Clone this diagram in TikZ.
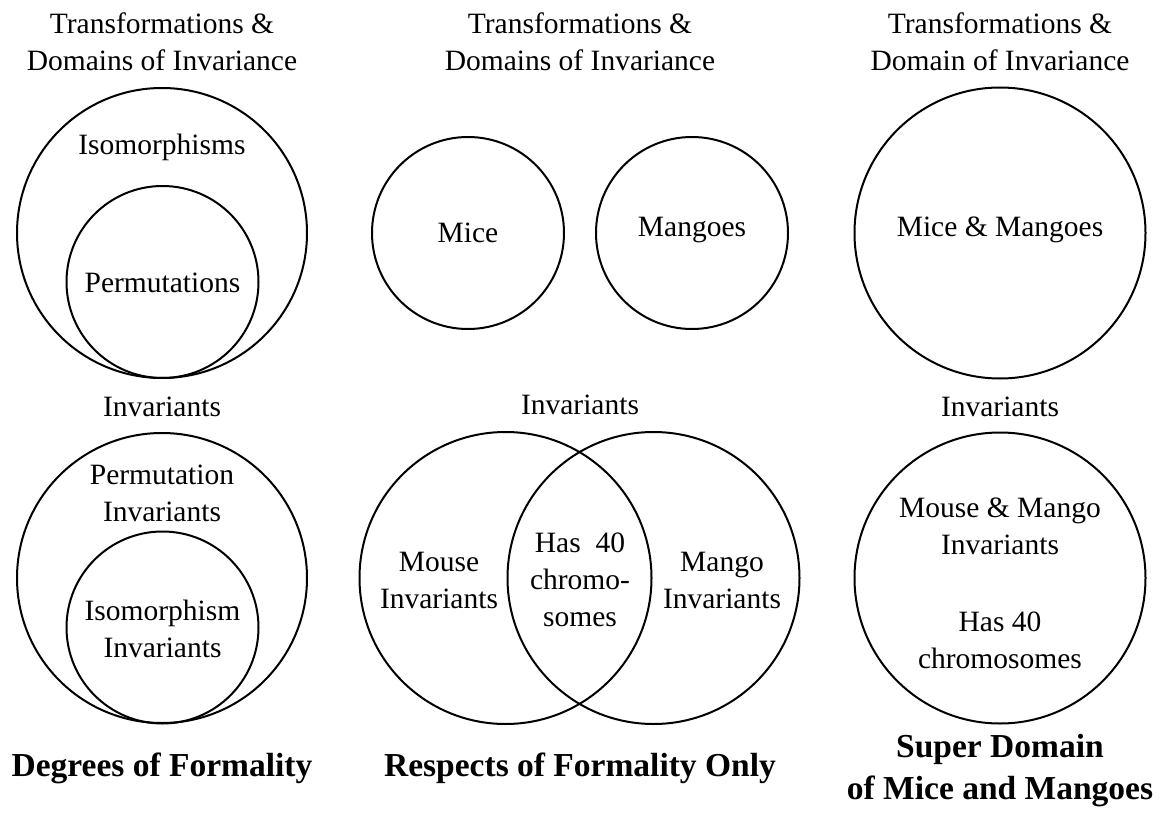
\documentclass[tikz,border=0pt]{standalone}
\usepackage{fontspec}
\setmainfont{Liberation Serif}
\begin{document}
\begin{tikzpicture}[x=1pt,y=-1pt,
  lbl/.style={font=\fontsize{29.5}{37}\selectfont, align=center, inner sep=0pt},
  ttl/.style={font=\fontsize{33.5}{42}\selectfont\bfseries, align=center, inner sep=0pt},
  ring/.style={draw, circle, line width=2pt, inner sep=0pt}]
\useasboundingbox (0,0) rectangle (1168,813);
% column 1
\node[lbl] (t1) at (162,41.5) {Transformations \&\\Domains of Invariance};
\node[ring, minimum size=290pt] (iso) at (162,233) {};
\node[ring, minimum size=192pt] (perm) at (162.5,282) {};
\node[lbl] (isoL) at (162,147) {Isomorphisms};
\node[lbl] (permL) at (162.5,283) {Permutations};
\node[lbl] (inv1) at (162,407) {Invariants};
\node[ring, minimum size=290pt] (pinv) at (162,578) {};
\node[ring, minimum size=192pt] (iinv) at (162.5,627.5) {};
\node[lbl] (pinvL) at (162,493.5) {Permutation\\Invariants};
\node[lbl] (iinvL) at (162.5,628.5) {Isomorphism\\Invariants};
\node[ttl] (deg) at (162,768) {Degrees of Formality};
% column 2
\node[lbl] (t2) at (580,41.5) {Transformations \&\\Domains of Invariance};
\node[ring, minimum size=192pt] (mice) at (468,233) {};
\node[ring, minimum size=192pt] (mang) at (692,233) {};
\node[lbl] (miceL) at (468,233) {Mice};
\node[lbl] (mangL) at (692,230) {Mangoes};
\node[lbl] (inv2) at (580,405) {Invariants};
\node[ring, minimum size=292pt] (mouseI) at (505.5,578) {};
\node[ring, minimum size=292pt] (mangoI) at (653.5,578) {};
\node[lbl] (mouseL) at (439,580) {Mouse\\Invariants};
\node[lbl] (mangoL) at (722,580) {Mango\\Invariants};
\node[lbl] (has) at (580,580) {Has~~40\\chromo-\\somes};
\node[ttl] (resp) at (580,768) {Respects of Formality Only};
% column 3
\node[lbl] (t3) at (1000,41.5) {Transformations \&\\Domain of Invariance};
\node[ring, minimum size=291pt] (mm) at (1000,233) {};
\node[lbl] (mmL) at (1000,230) {Mice \& Mangoes};
\node[lbl] (inv3) at (1000,407) {Invariants};
\node[ring, minimum size=291pt] (mmI) at (1000,578) {};
\node[lbl] (mmIL) at (1000,526.5) {Mouse \& Mango\\Invariants};
\node[lbl] (has3) at (1000,640) {Has 40\\chromosomes};
\node[ttl] (sup) at (1000,771) {Super Domain\\of Mice and Mangoes};
\end{tikzpicture}
\end{document}
